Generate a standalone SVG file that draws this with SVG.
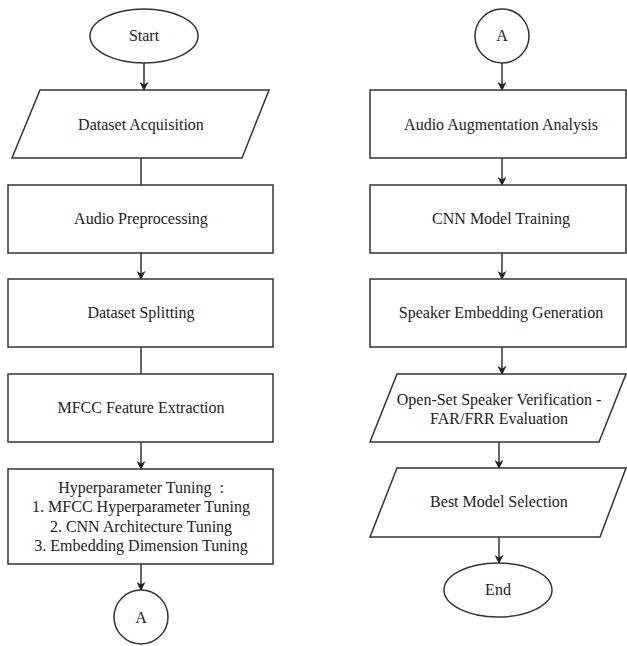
<svg xmlns="http://www.w3.org/2000/svg" width="627" height="646" viewBox="0 0 627 646">
<style>
.shape{fill:#fff;stroke:#333;stroke-width:1.5}
.lbl{font-family:'Liberation Serif','DejaVu Serif',serif;font-size:16px;fill:#222;text-anchor:middle}
.conn{stroke:#333;stroke-width:1.5;fill:none}
</style>
<defs>
<marker id="ah" viewBox="0 0 10 10" refX="9" refY="5" markerWidth="9" markerHeight="9" markerUnits="userSpaceOnUse" orient="auto">
<path d="M0,0 L10,5 L0,10 L3,5 z" fill="#222"/>
</marker>
</defs>
<rect width="627" height="646" fill="#fff"/>
<g id="connectors">
<line class="conn" x1="144" y1="63" x2="144" y2="90" marker-end="url(#ah)"/>
<line class="conn" x1="141" y1="158" x2="141" y2="185"/>
<line class="conn" x1="141" y1="253" x2="141" y2="279" marker-end="url(#ah)"/>
<line class="conn" x1="141" y1="347" x2="141" y2="374"/>
<line class="conn" x1="141" y1="442" x2="141" y2="469" marker-end="url(#ah)"/>
<line class="conn" x1="141" y1="564" x2="141" y2="590" marker-end="url(#ah)"/>
<line class="conn" x1="502" y1="63" x2="502" y2="90" marker-end="url(#ah)"/>
<line class="conn" x1="502" y1="158" x2="502" y2="185" marker-end="url(#ah)"/>
<line class="conn" x1="502" y1="253" x2="502" y2="279" marker-end="url(#ah)"/>
<line class="conn" x1="502" y1="347" x2="502" y2="374" marker-end="url(#ah)"/>
<line class="conn" x1="499" y1="442" x2="499" y2="468" marker-end="url(#ah)"/>
<line class="conn" x1="499" y1="537" x2="499" y2="563" marker-end="url(#ah)"/>
</g>
<g id="start">
<ellipse class="shape" cx="144" cy="36" rx="54" ry="27"/>
<text class="lbl" x="144" y="41">Start</text>
</g>
<g id="dataset-acquisition">
<polygon class="shape" points="40,90 269,90 242,158 12,158"/>
<text class="lbl" x="141" y="130">Dataset Acquisition</text>
</g>
<g id="audio-preprocessing">
<rect class="shape" x="8" y="185" width="265" height="68"/>
<text class="lbl" x="141" y="224">Audio Preprocessing</text>
</g>
<g id="dataset-splitting">
<rect class="shape" x="8" y="279" width="265" height="68"/>
<text class="lbl" x="141" y="318">Dataset Splitting</text>
</g>
<g id="mfcc">
<rect class="shape" x="8" y="374" width="265" height="68"/>
<text class="lbl" x="141" y="413">MFCC Feature Extraction</text>
</g>
<g id="hyperparameter">
<rect class="shape" x="8" y="469" width="265" height="95"/>
<text class="lbl" x="141" y="493">Hyperparameter Tuning&#160; :</text>
<text class="lbl" x="141" y="512">1. MFCC Hyperparameter Tuning</text>
<text class="lbl" x="141" y="532">2. CNN Architecture Tuning</text>
<text class="lbl" x="141" y="551">3. Embedding Dimension Tuning</text>
</g>
<g id="connector-a-out">
<circle class="shape" cx="141" cy="617" r="27"/>
<text class="lbl" x="141" y="623">A</text>
</g>
<g id="connector-a-in">
<circle class="shape" cx="502" cy="36" r="27"/>
<text class="lbl" x="502" y="41">A</text>
</g>
<g id="audio-augmentation">
<rect class="shape" x="370" y="90" width="256" height="68"/>
<text class="lbl" x="501" y="130">Audio Augmentation Analysis</text>
</g>
<g id="cnn-training">
<rect class="shape" x="370" y="185" width="256" height="68"/>
<text class="lbl" x="501" y="224">CNN Model Training</text>
</g>
<g id="speaker-embedding">
<rect class="shape" x="370" y="279" width="256" height="68"/>
<text class="lbl" x="501" y="318">Speaker Embedding Generation</text>
</g>
<g id="open-set">
<polygon class="shape" points="397,374 626,374 599,442 370,442"/>
<text class="lbl" x="499" y="405">Open-Set Speaker Verification -</text>
<text class="lbl" x="499" y="424">FAR/FRR Evaluation</text>
</g>
<g id="best-model">
<polygon class="shape" points="397,468 626,468 600,537 370,537"/>
<text class="lbl" x="499" y="507">Best Model Selection</text>
</g>
<g id="end">
<ellipse class="shape" cx="498" cy="590" rx="54" ry="27"/>
<text class="lbl" x="498" y="595">End</text>
</g>
</svg>
